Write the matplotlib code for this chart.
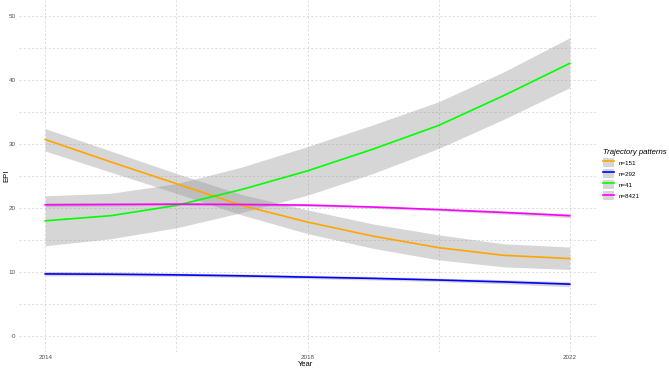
import matplotlib.pyplot as plt
from matplotlib.lines import Line2D
from matplotlib.patches import Patch

plt.rcParams["font.family"] = ["Liberation Sans", "DejaVu Sans"]

years = [2014, 2015, 2016, 2017, 2018, 2019, 2020, 2021, 2022]

# fitted EPI trajectories and their confidence bands
n151_fit = [30.7, 27.2, 23.8, 20.4, 17.8, 15.6, 13.8, 12.6, 12.1]
n151_lo = [28.9, 25.6, 22.3, 18.9, 16.0, 13.7, 11.9, 10.8, 10.4]
n151_hi = [32.4, 28.9, 25.4, 22.1, 19.7, 17.5, 15.8, 14.4, 13.9]

n292_fit = [9.7, 9.65, 9.55, 9.4, 9.2, 9.0, 8.75, 8.45, 8.1]
n292_lo = [9.4, 9.4, 9.3, 9.15, 8.95, 8.75, 8.5, 8.15, 7.7]
n292_hi = [10.1, 10.0, 9.85, 9.7, 9.5, 9.3, 9.05, 8.8, 8.5]

n41_fit = [18.0, 18.8, 20.4, 22.9, 25.8, 29.2, 32.9, 37.6, 42.6]
n41_lo = [14.1, 15.2, 16.9, 19.3, 22.0, 25.4, 29.3, 33.9, 38.8]
n41_hi = [21.9, 22.3, 23.8, 26.4, 29.6, 33.0, 36.6, 41.3, 46.6]

n8421_fit = [20.5, 20.55, 20.6, 20.55, 20.45, 20.15, 19.75, 19.3, 18.8]
n8421_lo = [20.2, 20.3, 20.4, 20.35, 20.25, 19.95, 19.55, 19.05, 18.5]
n8421_hi = [20.8, 20.8, 20.8, 20.75, 20.65, 20.35, 19.95, 19.55, 19.1]

series = [
    ("n=151", "#FFA500", n151_fit, n151_lo, n151_hi),
    ("n=292", "#0000FF", n292_fit, n292_lo, n292_hi),
    ("n=41", "#00FF00", n41_fit, n41_lo, n41_hi),
    ("n=8421", "#FF00FF", n8421_fit, n8421_lo, n8421_hi),
]

year_ticks = [2014, 2018, 2022]
epi_ticks = [0, 10, 20, 30, 40, 50]

fig = plt.figure(figsize=(6.69, 3.69), dpi=100)
ax = fig.add_axes([19 / 669, 17 / 369, 577 / 669, 352 / 369])

grid_kw = dict(color="#d6d6d6", linewidth=0.6, linestyle=(0, (2.5, 2.5)), zorder=0)
for y in range(0, 51, 5):
    ax.axhline(y, **grid_kw)
for x in range(2014, 2023, 2):
    ax.axvline(x, **grid_kw)

handles = []
for label, color, fit, lo, hi in series:
    ax.fill_between(years, lo, hi, color="#999999", alpha=0.4, linewidth=0, zorder=1)
    ax.plot(years, fit, color=color, linewidth=1.2, zorder=2)
    handles.append((Patch(facecolor="#d6d6d6", edgecolor="none"),
                    Line2D([], [], color=color, linewidth=1.2)))

ax.set_xlim(2013.6, 2022.4)
ax.set_ylim(-2.5, 52.5)
ax.set_xticks(year_ticks)
ax.set_yticks(epi_ticks)
ax.tick_params(length=0, labelsize=4.5, labelcolor="#4d4d4d")
ax.tick_params(axis="x", pad=2)
ax.tick_params(axis="y", pad=2.5)
for s in ax.spines.values():
    s.set_visible(False)
ax.set_xlabel("Year", fontsize=5.5, va="center")
ax.xaxis.set_label_coords((306 - 19) / 577, -(364.5 - 352) / 352)
ax.set_ylabel("EPI", fontsize=5.5, va="center")
ax.yaxis.set_label_coords(-(19 - 7) / 577, (352 - 176) / 352)

leg = fig.legend(handles, [s[0] for s in series], loc="upper left",
                 bbox_to_anchor=(603 / 669, 1 - 149 / 369), frameon=False,
                 fontsize=4.5, title="Trajectory patterns", handlelength=1.75,
                 handleheight=1.8, labelspacing=0.35, handletextpad=0.8,
                 borderpad=0, borderaxespad=0, alignment="left")
leg.get_title().set_fontsize(5.6)
leg.get_title().set_fontstyle("italic")

fig.savefig("out.png", dpi=100)
